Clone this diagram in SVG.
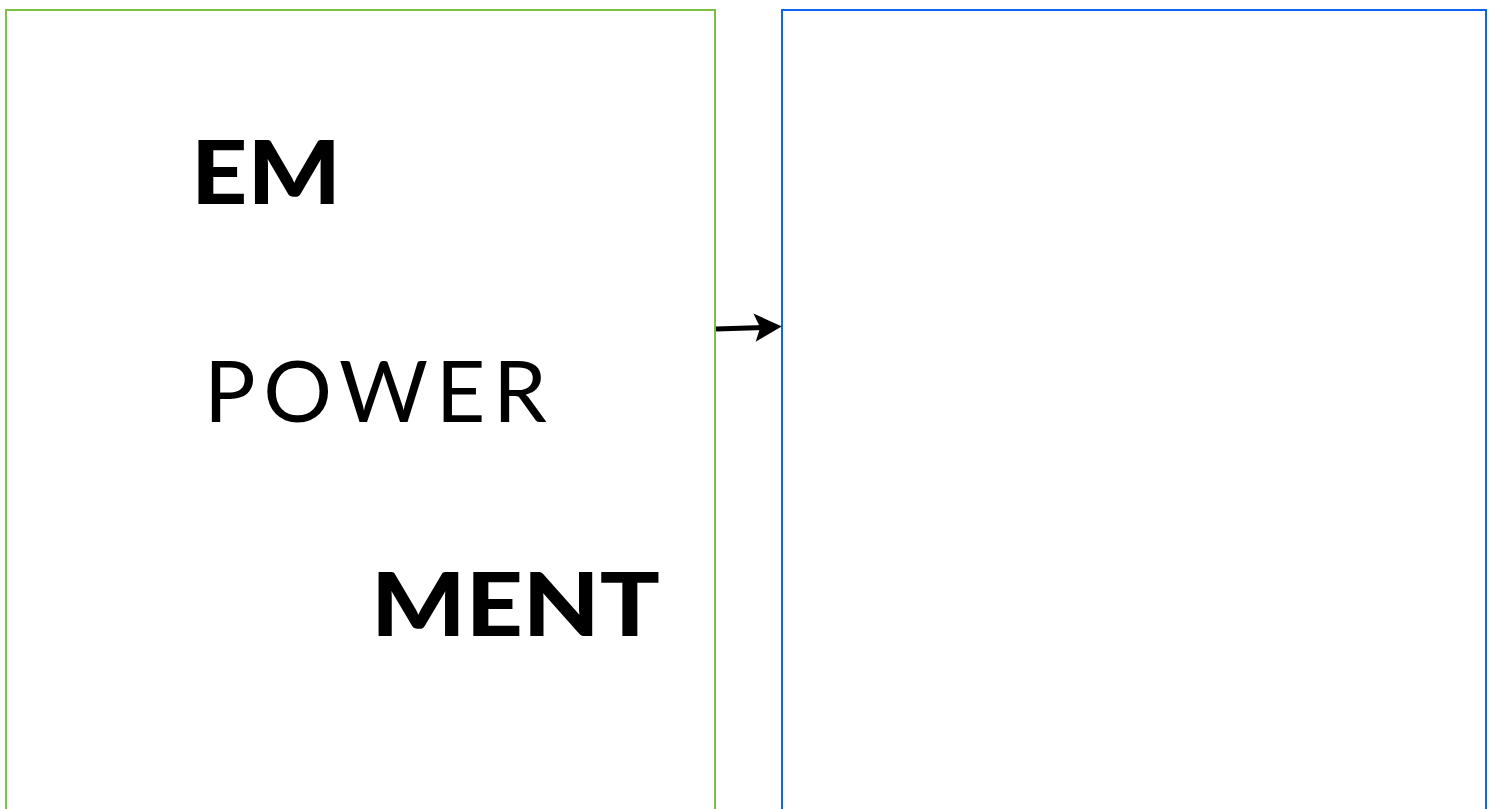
<svg xmlns="http://www.w3.org/2000/svg" width="1493" height="809" viewBox="0 0 1493 809">
<style>
.frame{fill:none;stroke-width:2}
.bold{font-family:Lato,"Open Sans","Liberation Sans",sans-serif;font-weight:900;font-size:87px;fill:#000}
.reg{font-family:Lato,"Open Sans","Liberation Sans",sans-serif;font-weight:400;font-size:86px;fill:#000}
.edge{stroke:#000;stroke-width:5;fill:none}
.head{fill:#000;stroke:#000;stroke-width:1.5;stroke-linejoin:miter}
</style>
<rect width="1493" height="809" fill="#fff"/>
<g id="left-panel">
<rect class="frame" x="6" y="10" width="709" height="820" stroke="#7AC143"/>
<text class="bold" x="191" y="204" textLength="150" lengthAdjust="spacingAndGlyphs">EM</text>
<text class="reg" x="204" y="422" textLength="343" lengthAdjust="spacing">POWER</text>
<text class="bold" x="371" y="636" textLength="289" lengthAdjust="spacingAndGlyphs">MENT</text>
</g>
<g id="right-panel">
<rect class="frame" x="782" y="10" width="704" height="820" stroke="#0A64F0"/>
</g>
<g id="connectors">
<line class="edge" x1="716" y1="329" x2="764" y2="327.5"/>
<polygon class="head" points="780,326.5 755,315 761,327.5 757,340"/>
</g>
</svg>
